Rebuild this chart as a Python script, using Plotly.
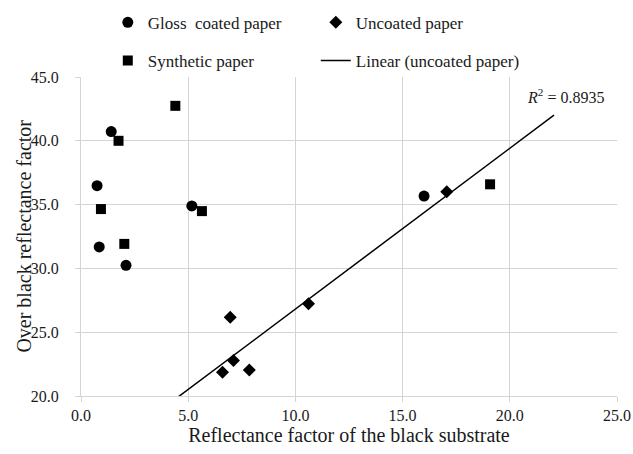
import numpy as np
import plotly.graph_objects as go

# ---- data ----
gloss_x = [1.41, 0.75, 0.85, 2.10, 5.17, 16.00]
gloss_y = [40.72, 36.48, 31.68, 30.24, 34.90, 35.67]

synthetic_x = [4.40, 1.75, 0.93, 2.02, 5.64, 19.08]
synthetic_y = [42.74, 40.00, 34.65, 31.92, 34.49, 36.59]

uncoated_x = [6.60, 7.11, 7.85, 6.96, 10.61, 17.06]
uncoated_y = [21.86, 22.78, 22.04, 26.18, 27.23, 36.00]

trend_backward = 3.0
trend_forward = 5.0
r2_label = "0.8935"

x_ticks = [0, 5, 10, 15, 20, 25]
y_ticks = [20, 25, 30, 35, 40, 45]

series_names = ["Gloss\u00a0 coated paper", "Uncoated paper", "Synthetic paper", "Linear (uncoated paper)"]
x_title = "Reflectance factor of the black substrate"
y_title = "Over black reflectance factor"

# ---- linear trend of uncoated paper ----
slope, intercept = np.polyfit(uncoated_x, uncoated_y, 1)
tx = np.array([min(uncoated_x) - trend_backward, max(uncoated_x) + trend_forward])
ty = slope * tx + intercept

FONT = "Liberation Serif"
TXT = "#1a1a1a"
GRID = "#d4d4d4"

fig = go.Figure()
fig.add_trace(go.Scatter(x=gloss_x, y=gloss_y, mode="markers", name=series_names[0],
                         marker=dict(symbol="circle", size=11, color="#000000"), legend="legend"))
fig.add_trace(go.Scatter(x=uncoated_x, y=uncoated_y, mode="markers", name=series_names[1],
                         marker=dict(symbol="diamond", size=10, color="#000000"), legend="legend"))
fig.add_trace(go.Scatter(x=synthetic_x, y=synthetic_y, mode="markers", name=series_names[2],
                         marker=dict(symbol="square", size=10, color="#000000"), legend="legend2"))
fig.add_trace(go.Scatter(x=tx, y=ty, mode="lines", name=series_names[3],
                         line=dict(color="#000000", width=1.5), legend="legend2"))

fig.add_annotation(x=22.6, y=43.55, xref="x", yref="y", showarrow=False,
                   text="<i>R</i><sup>2</sup> = " + r2_label,
                   font=dict(family=FONT, size=16, color=TXT))
# y-axis title
fig.add_annotation(x=-0.108, y=0.5, xref="paper", yref="paper", showarrow=False,
                   textangle=-90, xanchor="center", yanchor="middle",
                   text=y_title, font=dict(family=FONT, size=20, color=TXT))

legend_common = dict(orientation="h", xanchor="left", yanchor="middle",
                     entrywidth=163, entrywidthmode="pixels",
                     font=dict(family=FONT, size=17, color=TXT),
                     bgcolor="rgba(0,0,0,0)", borderwidth=0)

fig.update_layout(
    width=633, height=454,
    margin=dict(l=81, r=16, t=77, b=58, autoexpand=False),
    paper_bgcolor="white", plot_bgcolor="white",
    font=dict(family=FONT, color=TXT),
    legend=dict(x=0.050, y=1.170, **legend_common),
    legend2=dict(x=0.050, y=1.050, **legend_common),
    showlegend=True,
)
fig.update_xaxes(range=[0, 25], tickvals=x_ticks, ticktext=[f"{v:.1f}" for v in x_ticks],
                 showgrid=True, gridcolor=GRID, gridwidth=1, zeroline=False,
                 showline=True, linecolor=GRID, linewidth=1,
                 ticks="outside", ticklen=5, tickcolor=GRID, automargin=True,
                 tickfont=dict(family=FONT, size=16, color=TXT),
                 title=dict(text=x_title,
                            font=dict(family=FONT, size=20, color=TXT), standoff=0))
fig.update_yaxes(range=[20, 45], tickvals=y_ticks, ticktext=[f"{v:.1f}" for v in y_ticks],
                 showgrid=True, gridcolor=GRID, gridwidth=1, zeroline=False,
                 showline=True, linecolor=GRID, linewidth=1,
                 ticks="outside", ticklen=5, tickcolor=GRID, automargin=False,
                 ticklabelstandoff=13,
                 tickfont=dict(family=FONT, size=16, color=TXT))

fig.write_html("out.html", config={"displayModeBar": False},
               post_script="document.body.style.margin='0';document.body.style.overflow='hidden';")
